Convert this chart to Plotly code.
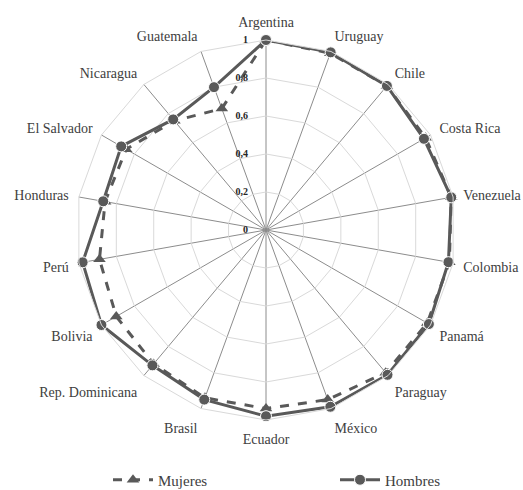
import plotly.graph_objects as go

categorias = ["Argentina", "Uruguay", "Chile", "Costa Rica", "Venezuela", "Colombia",
              "Panamá", "Paraguay", "México", "Ecuador", "Brasil", "Rep. Dominicana",
              "Bolivia", "Perú", "Honduras", "El Salvador", "Nicaragua", "Guatemala"]
mujeres = [1.0, 0.99, 0.99, 0.97, 0.99, 0.98, 0.98, 0.98, 0.95, 0.94, 0.94, 0.92,
           0.91, 0.89, 0.86, 0.85, 0.75, 0.68]
hombres = [1.0, 0.995, 0.99, 0.96, 0.99, 0.975, 0.99, 0.995, 0.99, 0.98, 0.95, 0.93,
           1.0, 0.98, 0.87, 0.88, 0.76, 0.80]
ticks = [0, 0.2, 0.4, 0.6, 0.8, 1]

FONT = "Liberation Serif"
LINE = "#595959"

fig = go.Figure()
fig.add_trace(go.Scatterpolar(
    r=mujeres + mujeres[:1], theta=categorias + categorias[:1], name="Mujeres",
    mode="lines+markers", legend="legend",
    line=dict(color=LINE, width=3, dash="dash"),
    marker=dict(symbol="triangle-up", size=11, color=LINE),
))
fig.add_trace(go.Scatterpolar(
    r=hombres + hombres[:1], theta=categorias + categorias[:1], name="Hombres",
    mode="lines+markers", legend="legend2",
    line=dict(color=LINE, width=3),
    marker=dict(symbol="circle", size=11, color=LINE, line=dict(color="white", width=1)),
))

W, H = 523, 490
L, T, S = 76, 40, 380
LEG_Y = -(480 - (T + S)) / S
fig.update_layout(
    width=W, height=H,
    showlegend=True,
    margin=dict(l=L, r=W - L - S, t=T, b=H - T - S, autoexpand=False),
    paper_bgcolor="white", plot_bgcolor="white",
    separators=",.",
    font=dict(family=FONT, size=14, color="#404040"),
    polar=dict(
        bgcolor="white",
        gridshape="linear",
        radialaxis=dict(range=[0, 1], tickvals=ticks, angle=90, tickangle=90, showline=False,
                        gridcolor="#d9d9d9", gridwidth=1,
                        ticks="outside", ticklen=14, tickcolor="rgba(0,0,0,0)",
                        tickfont=dict(family=FONT, size=10, color="#262626", weight="bold"),
                        side="counterclockwise"),
        angularaxis=dict(direction="clockwise", rotation=90, gridcolor="#8c8c8c",
                         gridwidth=1, linecolor="#d9d9d9", linewidth=1,
                         ticks="outside", ticklen=7, tickcolor="rgba(0,0,0,0)",
                         tickfont=dict(family=FONT, size=14, color="#404040")),
    ),
    legend=dict(orientation="h", x=(108 - L) / S, xanchor="left",
                y=LEG_Y, yanchor="middle", itemwidth=40,
                font=dict(family=FONT, size=15, color="#404040")),
    legend2=dict(orientation="h", x=(335 - L) / S, xanchor="left",
                 y=LEG_Y, yanchor="middle", itemwidth=40,
                 font=dict(family=FONT, size=15, color="#404040")),
)

fig.write_html("out.html", config={"displayModeBar": False},
               post_script="document.body.style.margin='0';")
